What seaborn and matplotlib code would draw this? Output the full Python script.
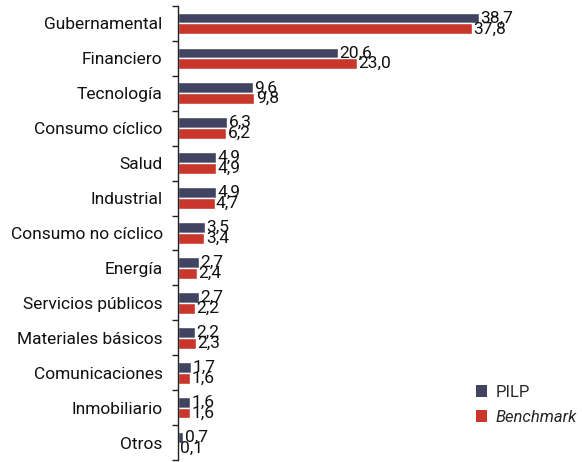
import matplotlib
matplotlib.use("Agg")
import matplotlib.pyplot as plt
import seaborn as sns
import pandas as pd
import numpy as np
from matplotlib.patches import Patch

sectores = ["Gubernamental", "Financiero", "Tecnología", "Consumo cíclico", "Salud",
            "Industrial", "Consumo no cíclico", "Energía", "Servicios públicos",
            "Materiales básicos", "Comunicaciones", "Inmobiliario", "Otros"]
pilp = [38.7, 20.6, 9.6, 6.3, 4.9, 4.9, 3.5, 2.7, 2.7, 2.2, 1.7, 1.6, 0.7]
benchmark = [37.8, 23.0, 9.8, 6.2, 4.9, 4.7, 3.4, 2.4, 2.2, 2.3, 1.6, 1.6, 0.1]
series = ["PILP", "Benchmark"]
colores = ["#414461", "#c9372c"]

df = pd.DataFrame({
    "sector": sectores * 2,
    "valor": pilp + benchmark,
    "serie": [series[0]] * len(sectores) + [series[1]] * len(sectores),
})

sns.set_style("white")
plt.rcParams["font.family"] = ["Roboto", "DejaVu Sans"]

fig = plt.figure(figsize=(5.82, 4.62), dpi=100)
ax = fig.add_axes([178 / 582, 2 / 462, 1 - 178 / 582, 454 / 462])

sns.barplot(data=df, y="sector", x="valor", hue="serie", order=sectores,
            hue_order=series, palette=colores, orient="h", width=0.62,
            legend=False, ax=ax, saturation=1)

for cont in ax.containers:
    ax.bar_label(cont, labels=[f"{v:.1f}".replace(".", ",") for v in cont.datavalues],
                 padding=1, fontsize=12.5, color="#111111")

ax.set_xlim(0, 51.9)
ax.set_ylim(len(sectores) - 0.5, -0.5)
ax.set_xlabel("")
ax.set_ylabel("")
ax.set_xticks([])
for s in ["top", "right", "bottom"]:
    ax.spines[s].set_visible(False)
ax.spines["left"].set_color("#222222")
ax.spines["left"].set_linewidth(1.0)

ax.set_yticks(np.arange(len(sectores)))
ax.set_yticklabels(sectores, fontsize=12.5, color="#111111")
ax.set_yticks(np.arange(len(sectores) + 1) - 0.5, minor=True)
ax.tick_params(axis="y", which="major", length=0, pad=11)
ax.tick_params(axis="y", which="minor", length=4, width=1, color="#222222", left=True)

handles = [Patch(facecolor=c, edgecolor="none") for c in colores]
leg = ax.legend(handles, series, loc="lower left", bbox_to_anchor=(0.7, 0.045),
                frameon=False, fontsize=12, handlelength=0.7, handleheight=0.7,
                handletextpad=0.5, labelspacing=0.6)
leg.get_texts()[1].set_fontstyle("italic")

fig.savefig("out.png", dpi=100)
